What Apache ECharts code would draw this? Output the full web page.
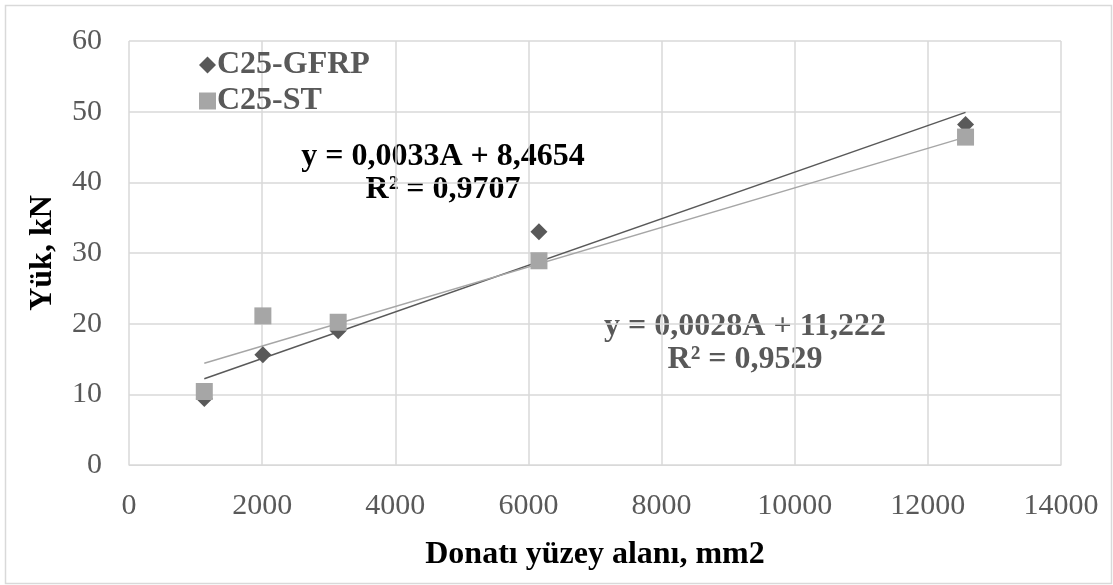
<!DOCTYPE html>
<html>
<head>
<meta charset="utf-8">
<script src="https://cdn.jsdelivr.net/npm/echarts@6/dist/echarts.min.js"></script>
<style>
  html, body { margin: 0; padding: 0; background: #fff; }
  #chart { width: 1113px; height: 585px; }
</style>
</head>
<body>
<div id="chart"></div>
<script>
// donatı yüzey alanı (mm2) ve yük (kN)
const areaX = [1131, 2011, 3142, 6158, 12566]
const gfrpLoad = [9.4, 15.6, 19.0, 33.0, 48.2]
const stLoad = [10.4, 21.1, 20.2, 28.9, 46.4]

// trend çizgileri, resimden okunan uç noktalar
const gfrpTrend = [[1131, 12.2], [12566, 49.9]]
const stTrend = [[1131, 14.4], [12566, 46.4]]

const gfrpEq = ['y = 0,0033A + 8,4654', 'R² = 0,9707']
const stEq = ['y = 0,0028A + 11,222', 'R² = 0,9529']

const serif = '"Liberation Serif", "DejaVu Serif", serif'
const dark = '#595959'
const light = '#a6a6a6'

const chart = echarts.init(document.getElementById('chart'))
chart.setOption({
  animation: false,
  grid: { left: 129, right: 52, top: 41, bottom: 120, outerBoundsMode: 'none', containLabel: false },
  legend: {
    orient: 'vertical',
    left: 194,
    top: 44,
    itemGap: 4,
    itemWidth: 17,
    itemHeight: 17,
    data: [
      { name: 'C25-GFRP', icon: 'diamond' },
      { name: 'C25-ST', icon: 'rect' }
    ],
    textStyle: { fontFamily: serif, fontSize: 32, fontWeight: 'bold', color: dark, padding: [0, 0, 0, -4] }
  },
  xAxis: {
    type: 'value',
    min: 0, max: 14000, interval: 2000,
    name: 'Donatı yüzey alanı, mm2',
    nameLocation: 'middle',
    nameGap: 74,
    nameMoveOverlap: false,
    nameTextStyle: { fontFamily: serif, fontSize: 32, fontWeight: 'bold', color: '#000' },
    axisLine: { show: true, lineStyle: { color: '#d9d9d9' } },
    axisTick: { show: false },
    axisLabel: { fontFamily: serif, fontSize: 30, color: dark, margin: 26, formatter: v => String(v) },
    splitLine: { show: true, lineStyle: { color: '#d9d9d9', width: 1.5 } }
  },
  yAxis: {
    type: 'value',
    min: 0, max: 60, interval: 10,
    name: 'Yük, kN',
    nameLocation: 'middle',
    nameGap: 70,
    nameMoveOverlap: false,
    nameTextStyle: { fontFamily: serif, fontSize: 32, fontWeight: 'bold', color: '#000' },
    axisLine: { show: false },
    axisTick: { show: false },
    axisLabel: { fontFamily: serif, fontSize: 30, color: dark, margin: 27 },
    splitLine: { show: true, lineStyle: { color: '#d9d9d9', width: 1.5 } }
  },
  series: [
    {
      name: 'gfrp-trend',
      type: 'line',
      data: gfrpTrend,
      showSymbol: false,
      lineStyle: { color: dark, width: 1.5 },
      silent: true, z: 2
    },
    {
      name: 'st-trend',
      type: 'line',
      data: stTrend,
      showSymbol: false,
      lineStyle: { color: light, width: 1.5 },
      silent: true, z: 2
    },
    {
      name: 'C25-GFRP',
      type: 'scatter',
      symbol: 'diamond',
      symbolSize: 17,
      itemStyle: { color: dark, opacity: 1 },
      data: areaX.map((x, i) => [x, gfrpLoad[i]]),
      z: 3
    },
    {
      name: 'C25-ST',
      type: 'scatter',
      symbol: 'rect',
      symbolSize: 17,
      itemStyle: { color: light, opacity: 1 },
      data: areaX.map((x, i) => [x, stLoad[i]]),
      z: 4
    }
  ],
  graphic: [
    {
      type: 'rect', left: 3, top: 3, z: -1,
      shape: { width: 1106, height: 578 },
      style: { fill: 'none', stroke: '#d9d9d9', lineWidth: 1.5 }
    },
    {
      type: 'text', x: 443, y: 157,
      style: { text: gfrpEq[0], font: 'bold 32px ' + serif, fill: '#000', align: 'center', verticalAlign: 'middle' }
    },
    {
      type: 'text', x: 443, y: 190,
      style: { text: gfrpEq[1], font: 'bold 32px ' + serif, fill: '#000', align: 'center', verticalAlign: 'middle' }
    },
    {
      type: 'text', x: 745, y: 327,
      style: { text: stEq[0], font: 'bold 32px ' + serif, fill: dark, align: 'center', verticalAlign: 'middle' }
    },
    {
      type: 'text', x: 745, y: 360,
      style: { text: stEq[1], font: 'bold 32px ' + serif, fill: dark, align: 'center', verticalAlign: 'middle' }
    }
  ]
})
</script>
</body>
</html>
